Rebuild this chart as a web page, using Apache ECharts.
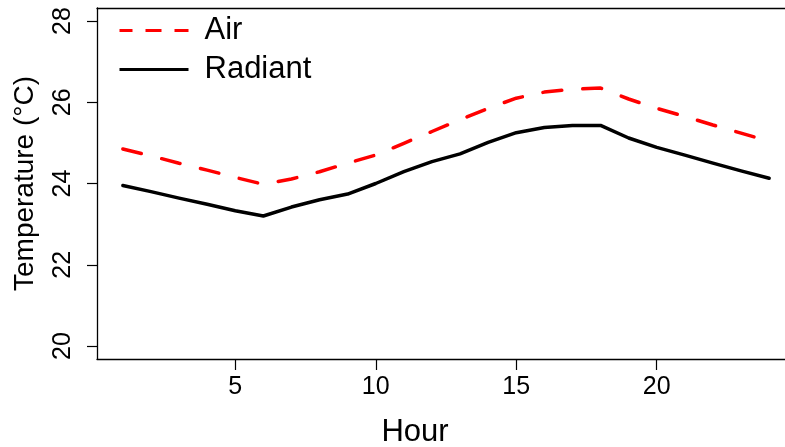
<!DOCTYPE html>
<html>
<head>
<meta charset="utf-8">
<script src="https://cdn.jsdelivr.net/npm/echarts@6/dist/echarts.min.js"></script>
<style>
html,body{margin:0;padding:0;background:#fff;}
#c{width:785px;height:447px;}
</style>
</head>
<body>
<div id="c"></div>
<script>
const hours = [1,2,3,4,5,6,7,8,9,10,11,12,13,14,15,16,17,18,19,20,21,22,23,24];
const airTemp = [24.85,24.68,24.50,24.33,24.15,23.98,24.11,24.29,24.50,24.70,24.99,25.28,25.57,25.85,26.10,26.25,26.32,26.35,26.08,25.85,25.65,25.44,25.24,25.04];
const radiantTemp = [23.95,23.80,23.64,23.49,23.33,23.20,23.42,23.60,23.74,24.00,24.29,24.54,24.73,25.01,25.25,25.38,25.43,25.43,25.12,24.89,24.70,24.50,24.31,24.13];
const xTicks = [5,10,15,20];
const yTicks = [20,22,24,26,28];

const FONT = 'Liberation Sans, Arial, sans-serif';
const frameLine = {show:true, lineStyle:{color:'#000', width:1.3}};
const chart = echarts.init(document.getElementById('c'), null, {renderer:'canvas'});
chart.setOption({
  animation:false,
  backgroundColor:'#fff',
  grid:{left:97, top:8, width:698, height:351, containLabel:false, outerBoundsMode:'none', show:false},
  legend:{
    orient:'vertical', left:118, top:15, padding:0, itemGap:8,
    itemWidth:69, itemHeight:14, itemStyle:{opacity:0},
    textStyle:{fontFamily:FONT, fontSize:31, color:'#000', lineHeight:31, padding:[0,0,0,11]},
    data:[
      {name:'Air', lineStyle:{type:[16,13], dashOffset:3, width:3, cap:'butt'}},
      {name:'Radiant', lineStyle:{width:3, cap:'butt'}}
    ]
  },
  xAxis:[{
    type:'value', min:0.08, max:24.92, position:'bottom',
    name:'Hour', nameLocation:'middle', nameGap:58,
    nameTextStyle:{fontFamily:FONT, fontSize:31, color:'#000', padding:[0,62,0,0]},
    axisLine:frameLine,
    splitLine:{show:false},
    axisTick:{show:true, length:11, lineStyle:{color:'#000', width:1.2}, customValues:xTicks},
    axisLabel:{fontFamily:FONT, fontSize:25, color:'#000', margin:16, customValues:xTicks}
  },{
    type:'value', min:0.08, max:24.92, position:'top',
    axisLine:frameLine, axisTick:{show:false}, axisLabel:{show:false}, splitLine:{show:false}
  }],
  yAxis:{
    type:'value', min:19.68, max:28.32,
    name:'Temperature (°C)', nameLocation:'middle', nameGap:58, nameRotate:90,
    nameTextStyle:{fontFamily:FONT, fontSize:28, color:'#000'},
    axisLine:frameLine,
    splitLine:{show:false},
    axisTick:{show:true, length:10, lineStyle:{color:'#000', width:1.2}, customValues:yTicks},
    axisLabel:{fontFamily:FONT, fontSize:25, color:'#000', margin:21, rotate:90, customValues:yTicks}
  },
  series:[
    {name:'Air', type:'line', symbol:'none', data:hours.map((h,i)=>[h,airTemp[i]]),
     lineStyle:{color:'#ff0000', width:3.5, type:[19,21], cap:'round'}, itemStyle:{color:'#ff0000'}},
    {name:'Radiant', type:'line', symbol:'none', data:hours.map((h,i)=>[h,radiantTemp[i]]),
     lineStyle:{color:'#000', width:3.5, cap:'round', join:'round'}, itemStyle:{color:'#000'}}
  ]
});
</script>
</body>
</html>
